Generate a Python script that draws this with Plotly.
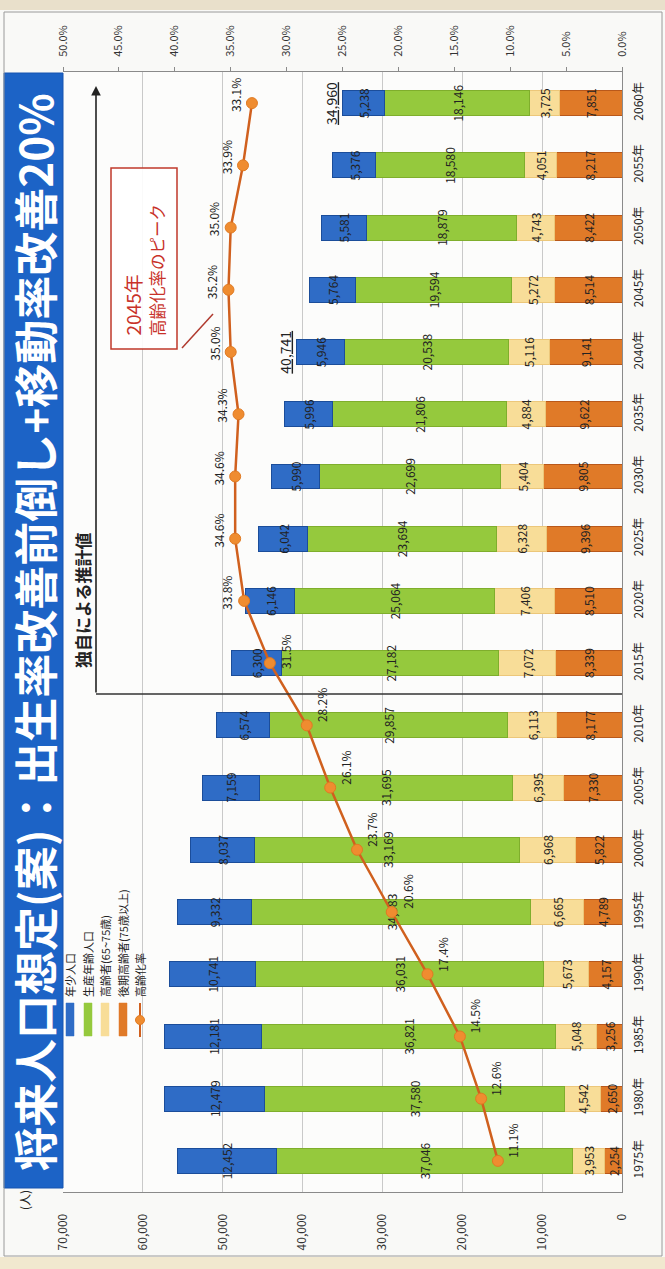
import plotly.graph_objects as go

# ---------------- data ----------------
years = ["1975年", "1980年", "1985年", "1990年", "1995年", "2000年", "2005年", "2010年", "2015年",
         "2020年", "2025年", "2030年", "2035年", "2040年", "2045年", "2050年", "2055年", "2060年"]
young = [12452, 12479, 12181, 10741, 9332, 8037, 7159, 6574, 6300,
         6146, 6042, 5990, 5996, 5946, 5764, 5581, 5376, 5238]
working = [37046, 37580, 36821, 36031, 34883, 33169, 31695, 29857, 27182,
           25064, 23694, 22699, 21806, 20538, 19594, 18879, 18580, 18146]
elderly = [3953, 4542, 5048, 5673, 6665, 6968, 6395, 6113, 7072,
           7406, 6328, 5404, 4884, 5116, 5272, 4743, 4051, 3725]
late_elderly = [2254, 2650, 3256, 4157, 4789, 5822, 7330, 8177, 8339,
                8510, 9396, 9805, 9622, 9141, 8514, 8422, 8217, 7851]
aging_rate = [11.1, 12.6, 14.5, 17.4, 20.6, 23.7, 26.1, 28.2, 31.5,
              33.8, 34.6, 34.6, 34.3, 35.0, 35.2, 35.0, 33.9, 33.1]
total_years = ["2040年", "2060年"]

pop_ticks = [0, 10000, 20000, 30000, 40000, 50000, 60000, 70000]
pct_ticks = [0, 5, 10, 15, 20, 25, 30, 35, 40, 45, 50]

series_names = ["後期高齢者(75歳以上)", "高齢者(65~75歳)", "生産年齢人口", "年少人口"]
colors = {"年少人口": "#2f6cc6", "生産年齢人口": "#95c93d",
          "高齢者(65~75歳)": "#f8dd98", "後期高齢者(75歳以上)": "#e07a28"}
edge = {"年少人口": "#1b4d9a", "生産年齢人口": "#7fae2c",
        "高齢者(65~75歳)": "#ecc77a", "後期高齢者(75歳以上)": "#b9581a"}
values = {"年少人口": young, "生産年齢人口": working,
          "高齢者(65~75歳)": elderly, "後期高齢者(75歳以上)": late_elderly}

FONT = "Noto Sans CJK JP"
TXT = "#222222"

# layout geometry (pixels)
PL, PR, PT, PB = 63, 622, 72, 1192
W, H = PR - PL, PB - PT


def px(xp):
    return (xp - PL) / W


def py(yp):
    return (PB - yp) / H


fig = go.Figure()

for name in series_names:
    vals = values[name]
    fig.add_trace(go.Bar(
        name=name, orientation="h", y=years, x=vals,
        marker=dict(color=colors[name], line=dict(color=edge[name], width=1)),
        text=[f"{v:,}" for v in vals], textposition="inside",
        insidetextanchor="middle", textangle=-90, constraintext="none",
        textfont=dict(size=12, color=TXT, family=FONT),
        width=0.4, showlegend=False, hoverinfo="skip",
    ))

fig.add_trace(go.Scatter(
    x=aging_rate, y=years, xaxis="x2", yaxis="y", mode="lines+markers",
    line=dict(color="#d0601e", width=2.5),
    marker=dict(size=11, color="#ef8c30", line=dict(color="#e07a22", width=1)),
    showlegend=False, hoverinfo="skip",
))

annotations = []


def ptext(xp, yp, text, size, color=TXT, yanchor="middle", xanchor="center"):
    annotations.append(dict(
        x=px(xp), y=py(yp), xref="paper", yref="paper", text=text, showarrow=False,
        textangle=-90, xanchor=xanchor, yanchor=yanchor,
        font=dict(size=size, color=color, family=FONT)))


# ratio labels
for i, (yr, r) in enumerate(zip(years, aging_rate)):
    if i <= 8:
        xs, ys = 15, (20 if i < 8 else 11)
    else:
        xs, ys = -17, 8
    annotations.append(dict(
        x=r, y=yr, xref="x2", yref="y", text=f"{r:.1f}%", showarrow=False,
        textangle=-90, xshift=xs, yshift=ys, xanchor="center", yanchor="middle",
        font=dict(size=12, color=TXT, family=FONT)))

# totals
for yr in total_years:
    i = years.index(yr)
    tot = young[i] + working[i] + elderly[i] + late_elderly[i]
    annotations.append(dict(
        x=tot, y=yr, xref="x", yref="y", text=f"<u>{tot:,}</u>", showarrow=False,
        textangle=-90, xshift=-12, xanchor="center", yanchor="middle",
        font=dict(size=14, color=TXT, family=FONT)))

# title band text
ptext(34, 632, "<b>将来人口想定(案)：出生率改善前倒し+移動率改善20%</b>", 44, color="white")

# unit label
ptext(24, 1200, "(人)", 12)

# estimate marker text + arrow
ptext(82, 600, "<b>独自による推計値</b>", 17)
annotations.append(dict(
    x=px(96), y=py(86), xref="paper", yref="paper", ax=0, ay=(694 - 86),
    axref="pixel", ayref="pixel", text="", showarrow=True, arrowhead=2,
    arrowsize=1.2, arrowwidth=1.6, arrowcolor="#222222"))

# callout
ptext(132, 338, "2045年", 19, color="#c8322a", yanchor="bottom")
ptext(157, 338, "高齢化率のピーク", 16.5, color="#c8322a", yanchor="bottom")

# custom legend
leg_items = [("年少人口", colors["年少人口"], 70),
             ("生産年齢人口", colors["生産年齢人口"], 88),
             ("高齢者(65~75歳)", colors["高齢者(65~75歳)"], 105),
             ("後期高齢者(75歳以上)", colors["後期高齢者(75歳以上)"], 123),
             ("高齢化率", "#e07a28", 140)]
shapes = []
for label, col, xc in leg_items:
    ptext(xc, 999, label, 11, yanchor="bottom")
    if label == "高齢化率":
        shapes.append(dict(type="line", xref="paper", yref="paper",
                           x0=px(xc), x1=px(xc), y0=py(1003), y1=py(1037),
                           line=dict(color="#d0601e", width=2)))
        shapes.append(dict(type="circle", xref="paper", yref="paper",
                           x0=px(xc - 4.5), x1=px(xc + 4.5), y0=py(1015.5), y1=py(1024.5),
                           fillcolor="#ef8c30", line=dict(color="#e07a22", width=1)))
    else:
        shapes.append(dict(type="rect", xref="paper", yref="paper",
                           x0=px(xc - 4), x1=px(xc + 4), y0=py(1036), y1=py(1003),
                           fillcolor=col, line=dict(color=col, width=0.5)))

# background pieces
shapes.insert(0, dict(type="rect", xref="paper", yref="paper", layer="below",
                      x0=px(0), x1=px(665), y0=py(1257), y1=py(1269),
                      fillcolor="#f1e8cf", line=dict(width=0)))
shapes.insert(0, dict(type="rect", xref="paper", yref="paper", layer="below",
                      x0=px(0), x1=px(665), y0=py(0), y1=py(10),
                      fillcolor="#e9e0cb", line=dict(width=0)))
shapes.append(dict(type="rect", xref="paper", yref="paper",
                   x0=px(4), x1=px(662), y0=py(1256), y1=py(12),
                   line=dict(color="#9a9a9a", width=1)))
# title band
shapes.append(dict(type="rect", xref="paper", yref="paper", layer="below",
                   x0=px(4), x1=px(63), y0=py(1188), y1=py(73),
                   fillcolor="#1c63c6", line=dict(color="#1655b0", width=1)))
# actual / estimate separator
shapes.append(dict(type="line", xref="paper", yref="paper",
                   x0=px(96), x1=px(PR), y0=py(694), y1=py(694),
                   line=dict(color="#333333", width=1.5)))
# callout box + connector
shapes.append(dict(type="rect", xref="paper", yref="paper",
                   x0=px(111), x1=px(177), y0=py(349), y1=py(168),
                   fillcolor="rgba(255,255,255,0.9)", line=dict(color="#c0392b", width=1.5)))
shapes.append(dict(type="line", xref="paper", yref="paper",
                   x0=px(182), x1=px(213), y0=py(348), y1=py(314),
                   line=dict(color="#b03a2e", width=1.5)))

fig.update_layout(
    width=665, height=1269,
    margin=dict(l=PL, r=665 - PR, t=PT, b=1269 - PB),
    barmode="stack", bargap=0.6,
    paper_bgcolor="#f9f9f7", plot_bgcolor="#fcfcfb",
    font=dict(family=FONT, color=TXT),
    xaxis=dict(range=[70000, 0], tickvals=pop_ticks,
               ticktext=[f"{v:,}" for v in pop_ticks], tickangle=-90,
               side="bottom", showgrid=True, gridcolor="#c9c9c9", gridwidth=1,
               showline=True, linecolor="#8a8a8a", linewidth=1, mirror=False,
               zeroline=False, ticks="", ticklabelstandoff=16,
               tickfont=dict(size=12, color="#333333", family=FONT)),
    xaxis2=dict(range=[50, 0], overlaying="x", side="top", tickvals=pct_ticks,
                ticktext=[f"{v:.1f}%" for v in pct_ticks], tickangle=-90,
                showgrid=False, zeroline=False, showline=True, linecolor="#8a8a8a",
                ticks="outside", ticklen=4, tickcolor="#8a8a8a", ticklabelstandoff=8,
                tickfont=dict(size=11, color="#333333", family=FONT)),
    yaxis=dict(type="category", range=[-0.5, 17.5], side="right", tickangle=-90,
               showgrid=False, zeroline=False, showline=True, linecolor="#8a8a8a",
               ticks="", ticklabelstandoff=6,
               tickfont=dict(size=12, color=TXT, family=FONT)),
    annotations=annotations, shapes=shapes,
)

fig.write_html("out.html")
